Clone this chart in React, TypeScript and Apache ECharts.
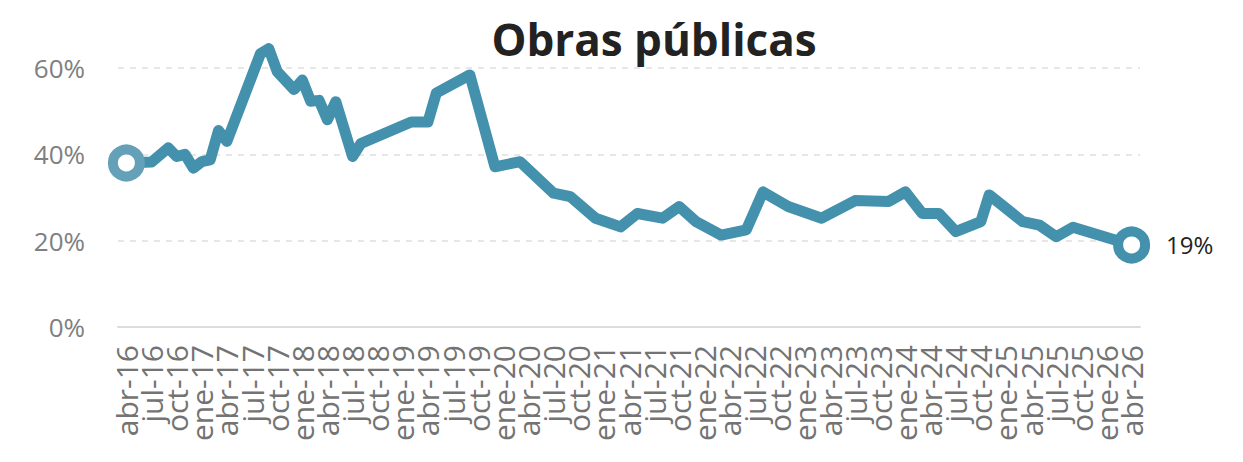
import React, { useEffect, useRef } from "react";
import * as echarts from "echarts";

const monthNames = ["ene", "feb", "mar", "abr", "may", "jun", "jul", "ago", "sep", "oct", "nov", "dic"];

// axis categories: monthly from mar-16 to may-26 (one blank month at each end)
const categories: string[] = [];
for (let y = 2016; y <= 2026; y++) {
  for (let m = 0; m < 12; m++) {
    if (y === 2016 && m < 2) continue;
    if (y === 2026 && m > 4) continue;
    categories.push(`${monthNames[m]}-${String(y).slice(2)}`);
  }
}

const dates = [
  "abr-16", "jul-16", "sep-16", "oct-16", "nov-16", "dic-16", "ene-17", "feb-17", "mar-17", "abr-17",
  "ago-17", "sep-17", "oct-17", "dic-17", "ene-18", "feb-18", "mar-18", "abr-18", "may-18", "jul-18",
  "ago-18", "nov-18", "feb-19", "abr-19", "may-19", "sep-19", "dic-19", "mar-20", "jul-20", "sep-20",
  "dic-20", "mar-21", "may-21", "ago-21", "oct-21", "dic-21", "mar-22", "jun-22", "ago-22", "nov-22",
  "mar-23", "jul-23", "nov-23", "ene-24", "mar-24", "may-24", "jul-24", "oct-24", "nov-24", "mar-25",
  "may-25", "jul-25", "sep-25", "abr-26",
];

const values = [
  38, 38.2, 41.5, 39.5, 40, 36.8, 38.3, 38.7, 45.5, 43,
  63.3, 64.5, 59.2, 55, 57.2, 52.3, 52.5, 48, 52.2, 39.5,
  42.5, 45, 47.5, 47.5, 54.2, 58.4, 37.1, 38.3, 31, 30.2,
  25.2, 23.2, 26.3, 25.2, 27.9, 24.4, 21.3, 22.5, 31.3, 27.9,
  25.2, 29.3, 29.1, 31.3, 26.3, 26.3, 22.1, 24.4, 30.6, 24.4,
  23.6, 20.9, 23.1, 19,
];

const yTicks = [0, 20, 40, 60];
const title = "Obras públicas";
const lineColor = "#4391ad";
const startColor = "#64a1b9";

export default function App() {
  const ref = useRef<HTMLDivElement>(null);
  useEffect(() => {
    if (!ref.current) return;
    const chart = echarts.init(ref.current, undefined, { renderer: "svg" });
    const pts = dates.map((d, i) => [d, values[i]]);
    const first = pts[0];
    const last = pts[pts.length - 1];
    const firstIdx = categories.indexOf("abr-16");
    const lastIdx = categories.indexOf("abr-26");
    const isTick = (index: number) => index >= firstIdx && index <= lastIdx && (index - firstIdx) % 3 === 0;
    chart.setOption({
      animation: false,
      title: {
        text: title,
        left: 641,
        top: 3,
        textAlign: "center",
        textStyle: { fontFamily: "Open Sans", fontWeight: "bold", fontSize: 44, color: "#222", lineHeight: 46 },
      },
      grid: { left: 110, right: 95, top: 60, bottom: 127 },
      xAxis: {
        type: "category",
        data: categories,
        boundaryGap: false,
        axisLine: { show: true, lineStyle: { color: "#dcdcdc", width: 2 } },
        axisTick: { show: false },
        axisLabel: {
          rotate: 90,
          margin: 18,
          fontFamily: "Open Sans",
          fontSize: 30,
          lineHeight: 20,
          color: "#737373",
          showMinLabel: false,
          showMaxLabel: false,
          interval: (index: number) => index === 0 || index === categories.length - 1 || isTick(index),
          formatter: (v: string, index: number) => (isTick(index) ? v : " "),
        },
        splitLine: { show: false },
      },
      yAxis: {
        type: "value",
        min: yTicks[0],
        max: yTicks[yTicks.length - 1],
        interval: 20,
        axisLine: { show: false },
        axisTick: { show: false },
        axisLabel: {
          margin: 33,
          fontFamily: "Open Sans",
          fontSize: 26,
          color: "#808080",
          formatter: (v: number) => `${v}%`,
        },
        splitLine: { show: true, lineStyle: { color: "#e0e0e0", type: [6, 6], width: 1.5 } },
      },
      series: [
        {
          type: "line",
          data: pts,
          clip: false,
          showSymbol: false,
          symbol: "none",
          lineStyle: { color: lineColor, width: 11, join: "round", cap: "round" },
          z: 2,
        },
        {
          type: "scatter",
          data: [
            { value: first, itemStyle: { borderColor: startColor } },
            {
              value: last,
              label: {
                show: true,
                position: "right",
                distance: 16,
                fontFamily: "Open Sans",
                fontSize: 24,
                color: "#222",
                formatter: (p: any) => `${Math.round(p.value[1])}%`,
              },
            },
          ],
          symbol: "circle",
          symbolSize: 27,
          clip: false,
          itemStyle: { color: "#fff", borderColor: lineColor, borderWidth: 10, opacity: 1 },
          emphasis: { disabled: true },
          z: 3,
        },
      ],
    });
    return () => chart.dispose();
  }, []);
  return <div ref={ref} style={{ width: 1227, height: 446 }} />;
}
